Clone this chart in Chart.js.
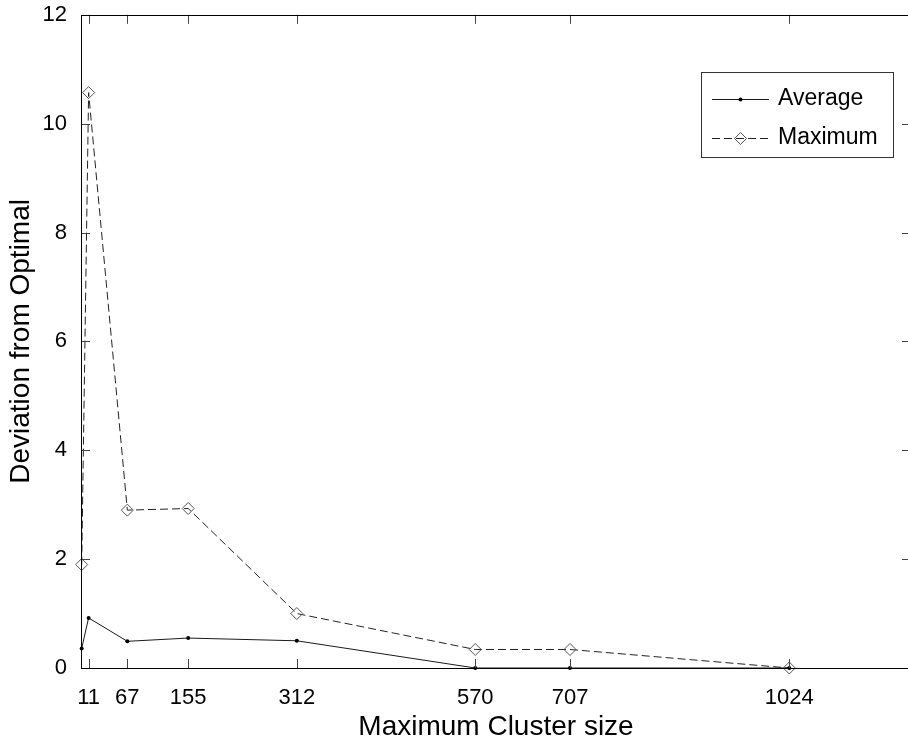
<!DOCTYPE html>
<html><head><meta charset="utf-8">
<script src="https://cdn.jsdelivr.net/npm/chart.js@4.4.0/dist/chart.umd.min.js"></script>
<style>
html,body{margin:0;padding:0;background:#fff;overflow:hidden;width:908px;height:742px}
#wrap{position:relative;width:918px;height:742px}
canvas{display:block}
</style>
</head><body><div id="wrap"><canvas id="c" width="918" height="742"></canvas></div>
<script>
const clusterSizes = [1, 11, 67, 155, 312, 570, 707, 1024];
const averageDev = [0.36, 0.92, 0.49, 0.55, 0.50, 0, 0, 0];
const maximumDev = [1.90, 10.57, 2.90, 2.93, 1.00, 0.34, 0.34, 0];
const xTickValues = [11, 67, 155, 312, 570, 707, 1024];
const yTickValues = [0, 2, 4, 6, 8, 10, 12];
const seriesNames = ['Average', 'Maximum'];

const FONT = '"Liberation Sans", Arial, Helvetica, sans-serif';

const boxTicksPlugin = {
  id: 'boxTicks',
  afterDatasetsDraw(chart) {
    const {ctx, chartArea: a, scales: {x, y}} = chart;
    ctx.save();
    ctx.strokeStyle = '#444';
    ctx.lineWidth = 1;
    ctx.beginPath();
    xTickValues.forEach(v => {
      const px = Math.round(x.getPixelForValue(v)) + 0.5;
      ctx.moveTo(px, a.bottom); ctx.lineTo(px, a.bottom - 9);
      ctx.moveTo(px, a.top); ctx.lineTo(px, a.top + 9);
    });
    yTickValues.forEach(v => {
      const py = Math.round(y.getPixelForValue(v)) + 0.5;
      ctx.moveTo(a.left, py); ctx.lineTo(a.left + 9, py);
      ctx.moveTo(a.right, py); ctx.lineTo(a.right - 9, py);
    });
    ctx.stroke();
    ctx.strokeStyle = '#000';
    ctx.strokeRect(Math.round(a.left) + 0.5, Math.round(a.top) + 0.5,
                   Math.round(a.right - a.left), Math.round(a.bottom - a.top));
    ctx.restore();
  }
};

const legendPlugin = {
  id: 'customLegend',
  afterDraw(chart) {
    const {ctx} = chart;
    const bx = 701, by = 72, bw = 192, bh = 85;
    ctx.save();
    ctx.fillStyle = '#fff';
    ctx.fillRect(bx, by, bw, bh);
    ctx.strokeStyle = '#333';
    ctx.lineWidth = 1;
    ctx.strokeRect(bx + 0.5, by + 0.5, bw, bh);
    const rows = [by + 27, by + 66];
    chart.data.datasets.forEach((ds, i) => {
      const yy = rows[i] + 0.5;
      ctx.strokeStyle = ds.borderColor;
      ctx.lineWidth = 1;
      ctx.setLineDash(ds.borderDash || []);
      ctx.beginPath(); ctx.moveTo(712, yy); ctx.lineTo(769, yy); ctx.stroke();
      ctx.setLineDash([]);
      ctx.fillStyle = ds.pointBackgroundColor;
      ctx.strokeStyle = ds.pointBorderColor;
      ctx.lineWidth = 1;
      Chart.helpers.drawPoint(ctx, {
        pointStyle: ds.pointStyle, radius: ds.pointRadius, borderWidth: ds.pointBorderWidth
      }, 740.5, yy);
      ctx.fillStyle = '#000';
      ctx.font = '23px ' + FONT;
      ctx.textBaseline = 'middle';
      ctx.textAlign = 'left';
      ctx.fillText(ds.label, 778, rows[i]);
    });
    ctx.restore();
  }
};

new Chart(document.getElementById('c'), {
  type: 'line',
  data: {
    datasets: [
      {
        label: seriesNames[0],
        data: clusterSizes.map((v, i) => ({x: v, y: averageDev[i]})),
        borderColor: '#1a1a1a', borderWidth: 1,
        pointStyle: 'circle', pointRadius: 2, pointBackgroundColor: '#000',
        pointBorderColor: '#000', pointBorderWidth: 0,
        tension: 0, fill: false, clip: false
      },
      {
        label: seriesNames[1],
        data: clusterSizes.map((v, i) => ({x: v, y: maximumDev[i]})),
        borderColor: '#222', borderWidth: 1, borderDash: [8, 4],
        pointStyle: 'rectRot', pointRadius: 6, pointBackgroundColor: 'rgba(0,0,0,0)',
        pointBorderColor: '#555', pointBorderWidth: 1,
        tension: 0, fill: false, clip: false
      }
    ]
  },
  options: {
    responsive: false,
    animation: false,
    devicePixelRatio: 1,
    layout: {padding: {top: 10, right: 4, left: 0, bottom: 0}},
    plugins: {legend: {display: false}, tooltip: {enabled: false}},
    elements: {point: {hoverRadius: 0}},
    scales: {
      x: {
        type: 'linear', position: 'bottom', min: 0, max: 1200,
        afterBuildTicks: s => { s.ticks = xTickValues.map(v => ({value: v})); },
        afterFit: s => { s.height = 74; },
        grid: {display: false}, border: {display: false},
        ticks: {font: {family: FONT, size: 22, lineHeight: 1}, color: '#000', padding: 11,
                autoSkip: false, maxRotation: 0, minRotation: 0,
                callback: v => String(v)},
        title: {display: true, text: 'Maximum Cluster size', color: '#000',
                font: {family: FONT, size: 28, lineHeight: 1}, padding: {top: 0, bottom: 1}}
      },
      y: {
        type: 'linear', position: 'left', min: 0, max: 12,
        afterBuildTicks: s => { s.ticks = yTickValues.map(v => ({value: v})); },
        afterFit: s => { s.width = 81; },
        grid: {display: false}, border: {display: false},
        ticks: {font: {family: FONT, size: 22, lineHeight: 0.8}, color: '#000', padding: 6,
                callback: v => String(v)},
        title: {display: true, text: 'Deviation from Optimal', color: '#000',
                font: {family: FONT, size: 28, lineHeight: 1}, padding: {top: 7, bottom: 0}}
      }
    }
  },
  plugins: [boxTicksPlugin, legendPlugin]
});
</script>
</body></html>
